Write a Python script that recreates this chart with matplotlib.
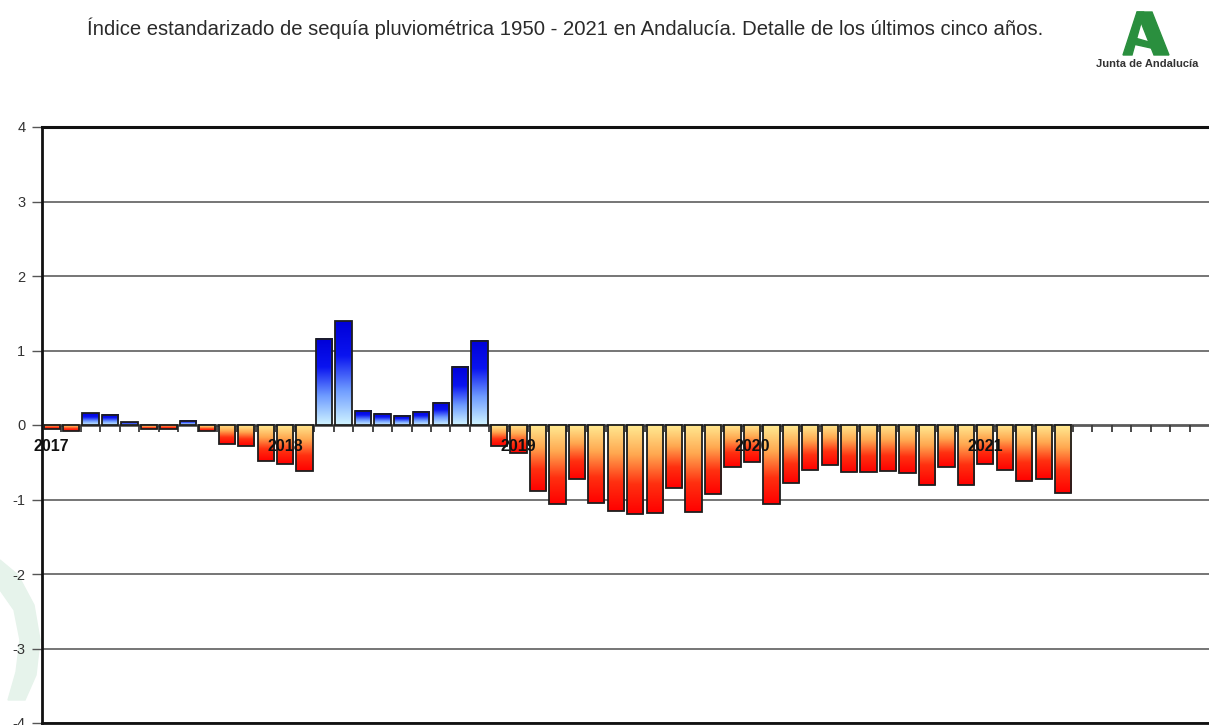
import numpy as np
import matplotlib
matplotlib.use("Agg")
import matplotlib.pyplot as plt
from matplotlib.colors import LinearSegmentedColormap
from matplotlib.patches import Polygon

plt.rcParams['font.family'] = ['Liberation Sans', 'DejaVu Sans']
plt.rcParams['axes.unicode_minus'] = False

# monthly SPI values, Jan 2017 .. May 2021
spi = [-0.06, -0.085, 0.16, 0.14, 0.036, -0.05, -0.06, 0.054, -0.076, -0.26, -0.28, -0.48,
       -0.52, -0.62, 1.16, 1.39, 0.19, 0.15, 0.125, 0.18, 0.30, 0.78, 1.13, -0.28,
       -0.38, -0.88, -1.06, -0.72, -1.045, -1.16, -1.19, -1.18, -0.84, -1.17, -0.93, -0.57,
       -0.50, -1.06, -0.775, -0.60, -0.54, -0.635, -0.635, -0.62, -0.645, -0.80, -0.57, -0.81,
       -0.52, -0.61, -0.75, -0.73, -0.91]
years = ['2017', '2018', '2019', '2020', '2021']
n_months = 60
title = ('Índice estandarizado de sequía pluviométrica 1950 - 2021 en Andalucía. '
         'Detalle de los últimos cinco años.')

W, H = 1209, 725
fig = plt.figure(figsize=(W / 100, H / 100), dpi=100)
ax = fig.add_axes([42 / W, 2 / H, 1 - 42 / W, (723 - 127) / H])
ax.set_zorder(2)
ax.patch.set_alpha(0)

cmap_pos = LinearSegmentedColormap.from_list('pos', ['#d0f4ff', '#6f9cff', '#0a14f0', '#0000d8'])
cmap_neg = LinearSegmentedColormap.from_list('neg', ['#ffea92', '#ffa850', '#ff3010', '#ff0000'])
grad = np.linspace(0, 1, 256).reshape(-1, 1)

bw = 0.84
x = np.arange(len(spi)) + 0.5
for xi, v in zip(x, spi):
    x0, x1 = xi - bw / 2, xi + bw / 2
    if v >= 0:
        ax.imshow(grad, cmap=cmap_pos, extent=(x0, x1, 0, v), origin='lower',
                  aspect='auto', zorder=3, interpolation='bilinear')
    else:
        ax.imshow(grad[::-1], cmap=cmap_neg, extent=(x0, x1, v, 0), origin='lower',
                  aspect='auto', zorder=3, interpolation='bilinear')
ax.bar(x, spi, width=bw, facecolor='none', edgecolor='#1e1e1e', linewidth=1.3, zorder=4)

# grid
for g in [-4, -3, -2, -1, 1, 2, 3]:
    ax.axhline(g, color='#6a6a6a', lw=1.3, zorder=1)
ax.axhline(0, color='#5a5a5a', lw=2.0, zorder=2)
ax.vlines(np.arange(1, n_months), 0, -0.09, color='#3a3a3a', lw=1.3, zorder=2)

for i, yr in enumerate(years):
    ax.text(12 * i + 0.5, -0.29, yr, ha='center', va='center', fontsize=11.5,
            fontweight='bold', color='#111111', zorder=6)

ax.set_xlim(0, n_months)
ax.set_ylim(-4, 4)
ax.set_xticks([])
ax.set_yticks(range(-4, 5))
ax.tick_params(axis='y', length=7, width=1, color='#555555', labelsize=10.5,
               labelcolor='#333333', pad=5)
ax.spines['right'].set_visible(False)
ax.spines['top'].set_linewidth(2.2)
ax.spines['left'].set_linewidth(2.0)
ax.spines['bottom'].set_linewidth(2.0)
for s in ax.spines.values():
    s.set_color('#111111')

fig.text(565 / W, 1 - 28 / H, title, ha='center', va='center', fontsize=14.6,
         color='#2a2a2a')

# logo
green = '#2a8f3e'
def fp(pts):
    return [(px / W, 1 - py / H) for px, py in pts]
fig.patches.append(Polygon(fp([(1137, 12), (1152, 12), (1169, 55), (1154, 55)]),
                           closed=True, transform=fig.transFigure, color=green))
fig.patches.append(Polygon(fp([(1137, 12), (1144, 12), (1132, 55), (1123, 55)]),
                           closed=True, transform=fig.transFigure, color=green))
fig.patches.append(Polygon(fp([(1135, 38), (1149, 42), (1157, 46), (1159, 51), (1151, 48), (1133, 44)]),
                           closed=True, transform=fig.transFigure, color=green))
fig.text(1147 / W, 1 - 64 / H, 'Junta de Andalucía', ha='center', va='center',
         fontsize=8, fontweight='bold', color='#333333')

# faint watermark at lower left
fig.patches.append(Polygon(fp([(0, 560), (18, 575), (34, 605), (40, 640), (36, 675), (25, 700),
                               (8, 700), (16, 672), (20, 640), (14, 610), (0, 590)]),
                           closed=True, transform=fig.transFigure, color='#e6f3eb', zorder=0))

fig.savefig('out.png', dpi=100)
